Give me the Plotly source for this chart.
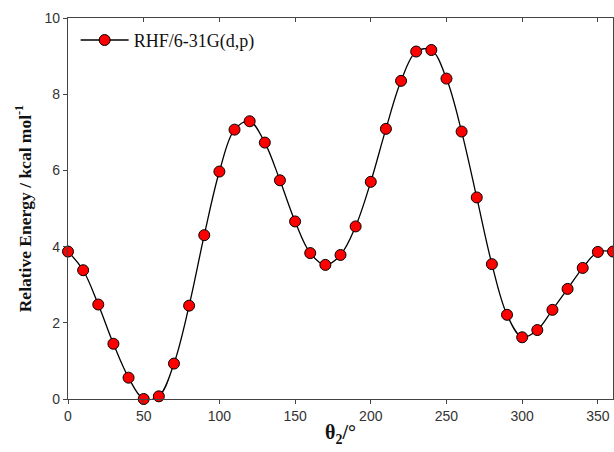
import plotly.graph_objects as go

# Torsional scan: dihedral angle theta2 (deg) vs relative energy (kcal/mol)
theta2 = list(range(0, 361, 10))
energy = [3.87, 3.38, 2.48, 1.45, 0.56, 0.00, 0.07, 0.93, 2.45, 4.30,
          5.97, 7.07, 7.29, 6.73, 5.74, 4.66, 3.83, 3.52, 3.78, 4.53,
          5.70, 7.09, 8.35, 9.12, 9.16, 8.41, 7.02, 5.29, 3.54, 2.21,
          1.62, 1.81, 2.34, 2.89, 3.44, 3.86, 3.87]

x_ticks = [0, 50, 100, 150, 200, 250, 300, 350]
y_ticks = [0, 2, 4, 6, 8, 10]

serif = "Liberation Serif, Times New Roman, serif"
sans = "Liberation Sans, Arial, sans-serif"
axis_col = "#444444"

fig = go.Figure()
fig.add_trace(go.Scatter(
    x=theta2, y=energy, mode="lines+markers",
    name="RHF/6-31G(d,p)",
    line=dict(color="black", width=1.3, shape="spline", smoothing=1),
    marker=dict(color="#ff0000", size=11, line=dict(color="black", width=1)),
    cliponaxis=False,
))
# invisible trace on the top axis so its inward ticks are drawn
fig.add_trace(go.Scatter(x=[0, 360], y=[0, 0], xaxis="x2", mode="none",
                         showlegend=False, hoverinfo="skip"))

fig.update_layout(
    width=614, height=452,
    margin=dict(l=68, r=1, t=18, b=53),
    paper_bgcolor="white", plot_bgcolor="white",
    showlegend=True,
    legend=dict(x=0.014, y=0.99, xanchor="left", yanchor="top",
                bgcolor="rgba(0,0,0,0)", itemwidth=48,
                font=dict(family=serif, size=18, color="#111111")),
    xaxis=dict(range=[0, 360], tickvals=x_ticks, showgrid=False, zeroline=False,
               showline=True, linecolor=axis_col, linewidth=1.3, mirror=True,
               ticks="outside", ticklen=4, tickcolor=axis_col,
               tickfont=dict(family=sans, size=14, color="#333333"),
               title=dict(text="<b>θ<sub>2</sub>/°</b>", standoff=2,
                          font=dict(family=serif, size=20, color="#111111"))),
    xaxis2=dict(range=[0, 360], tickvals=x_ticks, overlaying="x", side="top",
                showgrid=False, zeroline=False, showticklabels=False,
                ticks="inside", ticklen=4, tickcolor=axis_col),
    yaxis=dict(range=[0, 10], tickvals=y_ticks, showgrid=False, zeroline=False,
               showline=True, linecolor=axis_col, linewidth=1.3, mirror=True,
               ticks="outside", ticklen=4, tickcolor=axis_col,
               tickfont=dict(family=sans, size=14, color="#333333"),
               title=dict(text="<b>Relative Energy / kcal mol<sup>-1</sup></b>",
                          standoff=8,
                          font=dict(family=serif, size=17.5, color="#111111"))),
)

fig.write_html("out.html")
